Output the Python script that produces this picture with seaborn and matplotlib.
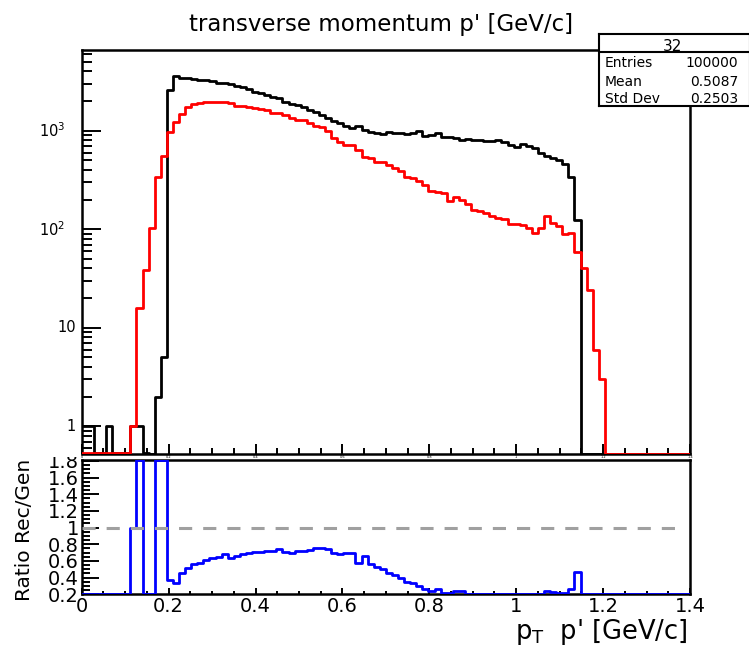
import numpy as np
import pandas as pd
import matplotlib
matplotlib.use("Agg")
import matplotlib.pyplot as plt
import matplotlib.ticker as mticker
from matplotlib.transforms import Bbox, TransformedBbox, blended_transform_factory
import seaborn as sns

# 100 bins of transverse momentum, 0 - 1.4 GeV/c
n_bins = 100
pt_range = (0.0, 1.4)

# generated (black)
gen_counts = [
    1, 1, 0, 0, 1, 0, 0, 0, 1, 1,
    0, 0, 2, 5, 2600, 3600, 3430, 3400, 3330, 3280,
    3250, 3200, 3080, 3020, 2950, 2850, 2780, 2650, 2500, 2410,
    2300, 2200, 2150, 1960, 1870, 1820, 1740, 1620, 1550, 1440,
    1350, 1255, 1200, 1115, 1065, 1115, 1016, 970, 950, 925,
    970, 950, 950, 925, 950, 990, 875, 905, 940, 870,
    865, 850, 805, 825, 805, 805, 795, 785, 805, 770,
    715, 680, 735, 700, 665, 590, 555, 525, 505, 465,
    340, 124, 0, 0, 0, 0, 0, 0, 0, 0,
    0, 0, 0, 0, 0, 0, 0, 0, 0, 0,
]

# reconstructed (red)
rec_counts = [
    0, 0, 0, 0, 0, 0, 0, 0, 1, 16,
    39, 104, 336, 557, 960, 1235, 1490, 1730, 1855, 1900,
    1940, 1950, 1970, 1970, 1900, 1800, 1790, 1730, 1690, 1670,
    1620, 1530, 1520, 1445, 1335, 1290, 1280, 1190, 1110, 1100,
    1000, 835, 775, 720, 710, 636, 540, 535, 485, 480,
    448, 415, 390, 340, 330, 310, 280, 245, 240, 235,
    192, 212, 198, 182, 157, 155, 146, 136, 129, 126,
    113, 113, 110, 102, 91, 104, 136, 116, 108, 89,
    91, 59, 40, 24, 6, 3, 0, 0, 0, 0,
    0, 0, 0, 0, 0, 0, 0, 0, 0, 0,
]

# rec / gen as shown in the lower pad
ratio_vals = [
    0, 0, 0, 0, 0, 0, 0, 0, 1.0, 16,
    0, 0, 168, 111, 0.37, 0.34, 0.45, 0.51, 0.56, 0.58,
    0.61, 0.63, 0.65, 0.68, 0.64, 0.66, 0.68, 0.69, 0.71, 0.71,
    0.72, 0.72, 0.74, 0.71, 0.69, 0.72, 0.72, 0.73, 0.75, 0.76,
    0.74, 0.69, 0.68, 0.70, 0.70, 0.57, 0.66, 0.56, 0.53, 0.50,
    0.46, 0.43, 0.39, 0.35, 0.33, 0.30, 0.26, 0.24, 0.26, 0.21,
    0.22, 0.24, 0.24, 0.19, 0.19, 0.19, 0.18, 0.17, 0.16, 0.17,
    0.16, 0.17, 0.15, 0.15, 0.14, 0.18, 0.24, 0.23, 0.21, 0.21,
    0.26, 0.47, 0, 0, 0, 0, 0, 0, 0, 0,
    0, 0, 0, 0, 0, 0, 0, 0, 0, 0,
]

stats_name = "32"
stats_labels = ["Entries", "Mean", "Std Dev"]
stats_values = ["100000", "0.5087", "0.2503"]

title = "transverse momentum p' [GeV/c]"
xlabel = r"$\mathregular{p_{T}}$  p' [GeV/c]"
ratio_label = "Ratio Rec/Gen"

edges = list(np.linspace(pt_range[0], pt_range[1], n_bins + 1))
df = pd.DataFrame({
    "pt": [0.5 * (a + b) for a, b in zip(edges[:-1], edges[1:])],
    "gen": gen_counts,
    "rec": rec_counts,
    "ratio": ratio_vals,
})

top_ylim = (0.53, 6600)
rat_ylim = (0.2, 1.81)
# ROOT paints empty / out of range bins on the frame edge
df["gen_draw"] = df["gen"].clip(lower=top_ylim[0])
df["rec_draw"] = df["rec"].clip(lower=top_ylim[0])
df["ratio_draw"] = df["ratio"].clip(*rat_ylim)

sns.set_style("ticks", {"xtick.direction": "in", "ytick.direction": "in"})
plt.rcParams["font.family"] = ["DejaVu Sans"]
plt.rcParams["mathtext.fontset"] = "dejavusans"
for key in ("text.color", "axes.labelcolor", "xtick.color", "ytick.color", "axes.edgecolor"):
    plt.rcParams[key] = "black"

W, H = 749, 649
fig = plt.figure(figsize=(W / 100, H / 100), dpi=100)
ax_top = fig.add_axes([81.7 / W, 1 - 453.5 / H, (690 - 81.7) / W, (453.5 - 50) / H])
ax_rat = fig.add_axes([81.7 / W, 1 - 594.3 / H, (690 - 81.7) / W, (594.3 - 460) / H])

# upper pad: gen and rec spectra
sns.histplot(data=df, x="pt", weights="gen_draw", bins=edges, element="step",
             fill=False, color="black", lw=2.0, ax=ax_top, zorder=3)
sns.histplot(data=df, x="pt", weights="rec_draw", bins=edges, element="step",
             fill=False, color="#ff0000", lw=2.0, ax=ax_top, zorder=3)
ax_top.set_yscale("log")
ax_top.set_xlim(*pt_range)
ax_top.set_ylim(*top_ylim)
ax_top.set_xlabel("")
ax_top.set_ylabel("")
ax_top.yaxis.set_major_locator(mticker.FixedLocator([1, 10, 100, 1000]))
ax_top.yaxis.set_minor_locator(mticker.LogLocator(subs=np.arange(2, 10)))
ax_top.yaxis.set_major_formatter(mticker.NullFormatter())
ax_top.yaxis.set_minor_formatter(mticker.NullFormatter())
ax_top.xaxis.set_major_locator(mticker.MultipleLocator(0.2))
ax_top.xaxis.set_minor_locator(mticker.MultipleLocator(0.05))
ax_top.xaxis.set_major_formatter(mticker.FuncFormatter(lambda v, p: f"{v:g}"))
ax_top.tick_params(axis="y", which="major", length=14, width=1.4)
ax_top.tick_params(axis="y", which="minor", length=7, width=1.4)
ax_top.tick_params(axis="x", which="major", length=7.5, width=1.4, labelsize=2.5, pad=1)
ax_top.tick_params(axis="x", which="minor", length=4.3, width=1.4)

ytr = blended_transform_factory(fig.transFigure, ax_top.transData)
for val, txt, xr in [(1, "1", 76), (10, "10", 76), (100, r"$10^{2}$", 65), (1000, r"$10^{3}$", 65)]:
    ax_top.text(xr / W, val, txt, transform=ytr, ha="right", va="center", fontsize=10.5)

# lower pad: ratio
sns.histplot(data=df, x="pt", weights="ratio_draw", bins=edges, element="step",
             fill=False, color="#0000ff", lw=2.0, ax=ax_rat, zorder=3)
ax_rat.axhline(1.0, xmax=0.98, color="#a0a0a0", lw=2.2, ls=(0, (4.3, 3.6)), zorder=4)
ax_rat.set_xlim(*pt_range)
ax_rat.set_ylim(*rat_ylim)
ax_rat.set_xlabel("")
ax_rat.set_ylabel("")
ax_rat.yaxis.set_major_locator(mticker.MultipleLocator(0.2))
ax_rat.yaxis.set_minor_locator(mticker.MultipleLocator(0.05))
ax_rat.xaxis.set_major_locator(mticker.MultipleLocator(0.2))
ax_rat.xaxis.set_minor_locator(mticker.MultipleLocator(0.05))
fmt = mticker.FuncFormatter(lambda v, p: f"{v:g}")
ax_rat.xaxis.set_major_formatter(fmt)
ax_rat.yaxis.set_major_formatter(fmt)
ax_rat.tick_params(axis="y", which="major", length=12, width=1.4, labelsize=14, pad=2)
ax_rat.tick_params(axis="y", which="minor", length=6, width=1.4)
ax_rat.tick_params(axis="x", which="major", length=4, width=1.4, labelsize=14, pad=2)
ax_rat.tick_params(axis="x", which="minor", length=2.2, width=1.4)

clip = TransformedBbox(Bbox([[0, 0], [1, 1 - 457 / H]]), fig.transFigure)
for t in ax_rat.yaxis.get_major_ticks():
    t.label1.set_clip_box(clip)
    t.label1.set_clip_on(True)

for ax in (ax_top, ax_rat):
    for side in ("top", "right", "left", "bottom"):
        ax.spines[side].set_visible(True)
        ax.spines[side].set_linewidth(1.8)
        ax.spines[side].set_color("black")
    ax.tick_params(top=False, right=False)

fig.text(381 / W, 1 - 24 / H, title, ha="center", va="center", fontsize=16.5)
fig.text(24 / W, 1 - 530 / H, ratio_label, rotation=90, ha="center", va="center", fontsize=14.5)
fig.text(688 / W, 1 - 639 / H, xlabel, ha="right", va="baseline", fontsize=18.5)

# stats box (runs off the right edge of the canvas, as in ROOT)
ax_st = fig.add_axes([599 / W, 1 - 106 / H, 151 / W, 72 / H], zorder=5)
ax_st.set_xlim(0, 1)
ax_st.set_ylim(0, 1)
ax_st.set_xticks([])
ax_st.set_yticks([])
ax_st.set_facecolor("white")
for s in ax_st.spines.values():
    s.set_linewidth(1.5)
    s.set_color("black")
ax_st.axhline(0.746, color="black", lw=1.5)
ax_st.text(0.49, 0.833, stats_name, ha="center", va="center", fontsize=11)
for yy, lab, val in zip([0.593, 0.333, 0.097], stats_labels, stats_values):
    ax_st.text(0.04, yy, lab, ha="left", va="center", fontsize=10)
    ax_st.text(0.92, yy, val, ha="right", va="center", fontsize=10)

fig.savefig("out.png", dpi=100, facecolor="white")
